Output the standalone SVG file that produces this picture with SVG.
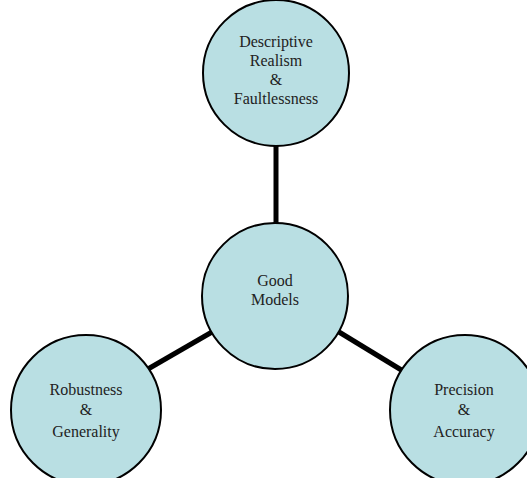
<svg xmlns="http://www.w3.org/2000/svg" width="527" height="478" viewBox="0 0 527 478">
<style>
.n{fill:#b9dfe3;stroke:#000;stroke-width:2}
.c{stroke:#000;stroke-width:5;fill:none}
text{font-family:"Liberation Serif","Times New Roman",serif;font-size:16px;fill:#222;text-anchor:middle}
</style>
<rect width="527" height="478" fill="#fff"/>
<g id="connectors">
<line class="c" x1="276" y1="146" x2="276" y2="224"/>
<line class="c" x1="212" y1="332" x2="148" y2="369"/>
<line class="c" x1="339" y1="332" x2="403" y2="371"/>
</g>
<g id="top">
<circle class="n" cx="276" cy="73" r="73"/>
<text x="276" y="47">Descriptive</text>
<text x="276" y="66">Realism</text>
<text x="276" y="85">&amp;</text>
<text x="276" y="104">Faultlessness</text>
</g>
<g id="center">
<circle class="n" cx="275" cy="296" r="73"/>
<text x="275" y="286">Good</text>
<text x="275" y="305">Models</text>
</g>
<g id="left">
<circle class="n" cx="86" cy="410" r="75"/>
<text x="86" y="395">Robustness</text>
<text x="86" y="415">&amp;</text>
<text x="86" y="437">Generality</text>
</g>
<g id="right">
<circle class="n" cx="465" cy="410" r="75"/>
<text x="464" y="395">Precision</text>
<text x="464" y="415">&amp;</text>
<text x="464" y="437">Accuracy</text>
</g>
</svg>
